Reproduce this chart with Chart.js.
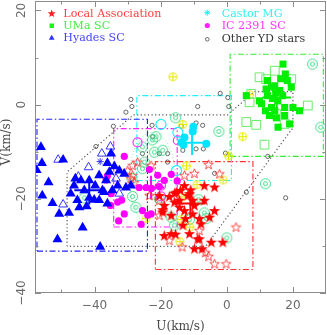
<!DOCTYPE html>
<html><head><meta charset="utf-8">
<script src="https://cdn.jsdelivr.net/npm/chart.js@4.4.0/dist/chart.umd.min.js"></script>
<style>html,body{margin:0;padding:0;background:#fff;overflow:hidden}</style>
</head><body>
<canvas id="c" width="327" height="335"></canvas>
<script>
// ---------- axis ----------
const U_MIN = -58, U_MAX = 30, V_MIN = -40, V_MAX = 22;
const xTicks = [-50, -40, -30, -20, -10, 0, 10, 20];
const yTicks = [-40, -30, -20, -10, 0, 10, 20];
const xTickLabels = [-40, -20, 0, 20];
const yTickLabels = [-40, -20, 0, 20];
const legendLabels = ["Local Association", "UMa SC", "Hyades SC", "Castor MG", "IC 2391 SC", "Other YD stars"];

// ---------- data: [U, V] ----------
const hyadesMembers = [[-56.2,-9.0],[-55.9,-12.4],[-57.5,-13.9],[-49.5,-11.7],[-53.9,-16.5],[-55.8,-19.3],[-52.7,-20.9],[-50.7,-23.2],[-47.7,-23.0],[-51.2,-28.6],[-43.6,-26.1],[-38.3,-30.2],[-45.8,-15.7],[-44.1,-16.1],[-38.6,-15.0],[-36.1,-12.4],[-34.0,-13.1],[-35.5,-14.3],[-36.5,-16.1],[-33.0,-17.2],[-30.5,-17.6],[-29.0,-17.2],[-31.0,-14.7],[-47.2,-18.9],[-45.2,-20.3],[-41.6,-19.8],[-40.1,-20.2],[-38.6,-20.3],[-36.1,-21.0],[-37.1,-18.6],[-44.6,-21.8],[-42.4,-21.6],[-41.6,-16.1],[-37.6,-18.2],[-35.0,-10.4],[-46.2,-17.2],[-34.6,-18.2],[-32.5,-14.0],[-39.8,-17.2],[-43.1,-18.2]];
const hyadesPossible = [[-51.0,-11.7],[-49.5,-21.2],[-37.8,-10.4],[-41.8,-13.3],[-44.9,-15.3],[-35.2,-8.9],[-33.5,-15.7],[-32.5,-18.9]];
const hyadesAsterisk = [[-38.3,-12.1]];
const ic2391Members = [[-31.0,-11.0],[-36.5,-16.0],[-36.1,-15.1],[-31.8,-20.3],[-33.0,-20.7],[-35.2,-21.4],[-32.7,-24.7],[-26.5,-17.6],[-24.4,-17.6],[-22.8,-17.8],[-20.4,-17.4],[-16.8,-14.8],[-23.4,-13.8],[-25.5,-22.5],[-23.9,-23.5],[-25.9,-25.4],[-31.0,-23.2],[-18.9,-16.1],[-20.9,-15.0],[-15.0,-16.2],[-22.9,-23.2],[-35.0,-18.9]];
const ic2391Possible = [[-19.9,-17.2],[-19.9,-19.5],[-27.0,-8.0],[-14.8,-7.6]];
const castorMembers = [[-10.1,-4.7],[-10.3,-5.7],[-12.8,-7.0],[-13.7,-8.0],[-13.1,-8.5],[-6.2,-8.3]];
const castorPossible = [[-19.9,-4.2],[-14.8,-5.9],[-15.2,-14.0]];
const localMembers = [[-15.8,-18.8],[-11.3,-18.9],[-19.4,-22.3],[-6.8,-17.2],[-3.7,-17.5],[-3.7,-22.5],[-7.8,-25.3],[-13.3,-25.6],[-18.9,-27.8],[-16.8,-27.4],[-15.5,-27.5],[-8.8,-28.5],[-7.5,-30.6],[-9.8,-30.6],[-1.2,-29.2],[-15.8,-20.7],[-12.8,-17.2],[-5.2,-23.9],[-8.3,-24.2],[-11.3,-27.4],[-8.3,-28.5],[-4.7,-29.2],[-11.8,-19.3],[-15.3,-18.6],[-18.9,-21.4],[-14.3,-21.8],[-10.3,-20.3],[-19.4,-22.8],[-10.3,-23.2],[-14.3,-20.3],[-12.8,-22.5],[-16.8,-23.5],[-9.8,-21.4],[-6.8,-20.3],[-12.5,-24.2],[-17.4,-19.5],[-20.4,-19.3],[-14.0,-18.2],[-10.9,-18.1]];
const localPossible = [[-28.5,-12.9],[-27.0,-12.2],[-28.5,-15.0],[-28.0,-16.5],[-30.0,-14.0],[-29.0,-15.7],[-22.9,-12.9],[-5.5,-12.7],[-2.2,-14.7],[-12.8,-15.0],[-9.8,-14.6],[2.8,-26.0],[-13.5,-30.2],[-5.5,-32.2],[-3.7,-33.8],[-0.2,-33.8],[-6.5,-31.4],[-23.4,-19.3],[-20.4,-23.5],[-17.4,-28.8],[-8.3,-26.7],[-20.4,-20.3]];
const umaMembers = [[17.0,8.6],[17.7,6.5],[18.3,5.1],[19.5,3.7],[13.5,3.7],[11.9,3.3],[14.5,4.0],[16.0,3.0],[12.3,1.9],[13.8,1.3],[15.4,0.8],[16.9,1.9],[9.9,0.8],[17.5,-0.6],[20.0,-0.6],[22.0,-1.3],[12.9,-2.3],[15.5,-4.8],[19.0,-4.1],[14.5,-1.3],[5.9,1.9],[15.0,-2.8],[13.5,-0.6],[14.8,2.5],[10.5,0.2],[12.3,5.1],[16.3,5.5],[11.7,-1.3],[17.5,-2.3]];
const umaPossible = [[14.5,7.2],[9.9,5.8],[11.9,5.4],[19.5,5.4],[7.4,2.3],[6.9,0.5],[24.5,-0.2],[5.9,-3.7],[8.9,-4.3],[17.5,-4.1],[15.0,-2.0],[11.4,-8.5]];
const ringStars = [[25.9,8.6],[28.4,-4.8],[11.7,-16.8],[0.0,-28.3],[-15.5,-2.8],[-2.4,-5.7],[-21.4,-6.8],[-25.5,-9.0],[-21.9,-10.1],[-19.4,-9.7],[-24.9,-12.2],[-28.5,-19.5],[-27.5,-21.8],[-16.8,-23.9],[-8.5,-20.2],[-6.8,-23.0],[-6.2,-24.2],[-11.3,-24.4],[-15.8,-25.6],[-25.5,-13.6],[-28.7,-15.7],[-20.4,-20.0],[-43.1,-19.8],[-22.5,-7.5]];
const plusStars = [[-16.3,5.9],[6.9,2.1],[-13.3,-4.2],[-12.2,-13.0],[-9.0,-17.0],[-1.1,-16.0],[0.5,-10.9],[4.8,-6.8],[-13.6,-19.6],[-11.2,-26.0],[-14.2,-29.1],[-24.4,-24.2],[-13.8,-24.4]];
const otherYD = [[-29.0,1.1],[-28.7,-0.4],[-30.5,-1.6],[-8.8,-0.4],[-2.0,2.4],[0.3,1.5],[0.6,-0.4],[-34.3,-4.6],[-22.6,-4.4],[-9.3,-3.9],[-7.3,-4.4],[-13.8,-4.6],[-39.6,-8.9],[-17.9,-10.4],[-13.3,-9.7],[-9.3,-9.4],[-7.1,-9.4],[-0.4,-10.3],[-3.7,-14.6],[5.9,-18.6],[17.8,-19.8],[12.4,-11.0],[-22.4,-6.8],[-17.9,-12.2],[-25.5,-10.4],[-20.4,-10.4]];

// boxes: [Umin, Umax, Vmin, Vmax]
const hyadesBox = [-57.4, -24.0, -31.1, -3.1];
const ic2391Box = [-34.2, -15.0, -26.0, -5.1];
const castorBox = [-27.2, 1.4, -16.1, 1.9];
const localBox = [-21.6, 7.9, -35.0, -12.1];
const umaBox = [1.0, 29.2, -11.0, 10.7];
// dotted outline: vertices [U, V]
const outline = [[-48.3,-30.1],[-48.3,-14.3],[-28.3,-2.2],[0.2,-2.2],[8.4,2.75],[20.0,2.75],[20.0,-4.9],[-6.4,-30.1],[-48.3,-30.1]];
// mean and dispersion crosses: [U, V, dU, dV]
const hyadesCross = [-41.6, -18.2, 4.5, 3.0];
const ic2391Cross = [-22.9, -17.6, 4.0, 2.5];
const castorCross = [-10.5, -8.1, 3.8, 2.6];
const umaCross = [15.1, 1.5, 4.3, 3.0];
const localCross = [-11.0, -21.0, 4.5, 3.0];
// ellipse: [U, V, semiU, semiV]
const ic2391Ellipse = [-22.5, -15.9, 7.0, 10.0];

// ---------- helpers ----------
const pts = a => a.map(p => ({x: p[0], y: p[1]}));
const boxPts = b => [{x:b[0],y:b[2]},{x:b[1],y:b[2]},{x:b[1],y:b[3]},{x:b[0],y:b[3]},{x:b[0],y:b[2]}];
const crossPts = c => [{x:c[0]-c[2],y:c[1]},{x:c[0]+c[2],y:c[1]},{x:c[0],y:null},{x:c[0],y:c[1]-c[3]},{x:c[0],y:c[1]+c[3]}];

function mk(size, draw) {
  const c = document.createElement('canvas');
  c.width = size; c.height = size;
  const g = c.getContext('2d');
  draw(g, size / 2);
  return c;
}
function starPath(g, cx, cy, R, r) {
  g.beginPath();
  for (let i = 0; i < 10; i++) {
    const a = -Math.PI / 2 + i * Math.PI / 5;
    const rr = i % 2 ? r : R;
    const px = cx + rr * Math.cos(a), py = cy + rr * Math.sin(a);
    i ? g.lineTo(px, py) : g.moveTo(px, py);
  }
  g.closePath();
}
const starFilled = mk(13, (g, c) => { starPath(g, c, c + 0.4, 5.9, 2.4); g.fillStyle = '#ff0000'; g.fill(); });
const starOpen = mk(13, (g, c) => { starPath(g, c, c + 0.4, 5.0, 2.1); g.strokeStyle = '#ff3a3a'; g.lineWidth = 0.9; g.stroke(); });
const plusCircle = mk(11, (g, c) => {
  g.strokeStyle = '#e8e800'; g.lineWidth = 1;
  g.beginPath(); g.arc(c, c, 4, 0, Math.PI * 2); g.stroke();
  g.beginPath(); g.moveTo(c - 4, c); g.lineTo(c + 4, c); g.moveTo(c, c - 4); g.lineTo(c, c + 4); g.stroke();
});
const ringCircle = mk(13, (g, c) => {
  g.strokeStyle = '#3ddc8a'; g.lineWidth = 1;
  g.beginPath(); g.arc(c, c, 5, 0, Math.PI * 2); g.stroke();
  g.beginPath(); g.arc(c, c, 2, 0, Math.PI * 2); g.stroke();
});

const lineDS = (data, color, dash, width) => ({
  data, showLine: true, borderColor: color, borderWidth: width || 1.2, borderDash: dash,
  pointRadius: 0, fill: false, spanGaps: false, tension: 0
});
const DD = [6, 2.5, 1.5, 2.5];

const datasets = [
  {data: pts(hyadesMembers), pointStyle: 'triangle', pointRadius: 5.8, backgroundColor: '#0000ff', borderWidth: 0},
  {data: pts(hyadesAsterisk), pointStyle: 'star', pointRadius: 3.5, borderColor: '#3030ff', borderWidth: 1},
  {data: pts(localMembers), pointStyle: starFilled, pointRadius: 5},
  {data: pts(umaMembers), pointStyle: 'rect', pointRadius: 5, backgroundColor: '#00ee00', borderWidth: 0},
  {data: pts(castorMembers), pointStyle: 'circle', pointRadius: 4, backgroundColor: '#00e5ff', borderWidth: 0},
  {data: pts(ic2391Members), pointStyle: 'circle', pointRadius: 3.6, backgroundColor: '#ff00ff', borderWidth: 0},
  {data: pts(hyadesPossible), pointStyle: 'triangle', pointRadius: 5, backgroundColor: 'rgba(0,0,0,0)', borderColor: '#3434ff', borderWidth: 1},
  {data: pts(localPossible), pointStyle: starOpen, pointRadius: 5},
  {data: pts(umaPossible), pointStyle: 'rect', pointRadius: 6.2, backgroundColor: 'rgba(0,0,0,0)', borderColor: '#66ee66', borderWidth: 1},
  {data: pts(castorPossible), pointStyle: 'circle', pointRadius: 5, backgroundColor: 'rgba(0,0,0,0)', borderColor: '#22eeff', borderWidth: 1.2},
  {data: pts(ic2391Possible), pointStyle: 'circle', pointRadius: 4.5, backgroundColor: 'rgba(0,0,0,0)', borderColor: '#ff33ff', borderWidth: 1.2},
  {data: pts(plusStars), pointStyle: plusCircle, pointRadius: 4},
  {data: pts(ringStars), pointStyle: ringCircle, pointRadius: 5},
  {data: pts(otherYD), pointStyle: 'circle', pointRadius: 2.1, backgroundColor: 'rgba(0,0,0,0)', borderColor: '#444', borderWidth: 0.8},
  lineDS(crossPts(hyadesCross), '#0000ff', [], 2),
  lineDS(crossPts(ic2391Cross), '#ff00ff', [], 2),
  lineDS(crossPts(castorCross), '#00e5ff', [], 2),
  lineDS(crossPts(umaCross), '#00ee00', [], 2),
  lineDS(crossPts(localCross), '#ff0000', [], 2),
  lineDS(boxPts(hyadesBox), '#2222ff', DD, 1.1),
  lineDS(boxPts(ic2391Box), '#ff22ff', DD, 1.1),
  lineDS(boxPts(castorBox), '#22eeff', DD, 1.1),
  lineDS(boxPts(localBox), '#ff3030', DD, 1.1),
  lineDS(boxPts(umaBox), '#33ee33', DD, 1.1),
  lineDS(pts(outline), '#555', [1.2, 2.4], 1.2),
];
datasets.forEach((d, i) => { d.order = i; });

const deco = {
  id: 'deco',
  beforeDatasetsDraw(chart) {
    const {ctx, scales: {x, y}} = chart;
    const e = ic2391Ellipse;
    const cx = x.getPixelForValue(e[0]), cy = y.getPixelForValue(e[1]);
    const rx = Math.abs(x.getPixelForValue(e[0] + e[2]) - cx), ry = Math.abs(y.getPixelForValue(e[1] + e[3]) - cy);
    ctx.save();
    ctx.strokeStyle = '#8aeeb0'; ctx.lineWidth = 1; ctx.setLineDash([1, 2]);
    ctx.beginPath(); ctx.ellipse(cx, cy, rx, ry, 0, 0, Math.PI * 2); ctx.stroke();
    ctx.restore();
  },
  afterDraw(chart) {
    const {ctx, chartArea: a, scales: {x, y}} = chart;
    ctx.save();
    ctx.setLineDash([]);
    ctx.strokeStyle = '#8c8c8c'; ctx.lineWidth = 1;
    ctx.strokeRect(a.left + 0.5, a.top + 0.5, a.right - a.left - 1, a.bottom - a.top - 1);
    ctx.beginPath();
    xTicks.forEach(v => {
      const px = Math.round(x.getPixelForValue(v)) + 0.5;
      const L = (v % 20 === 0) ? 6 : 3.5;
      ctx.moveTo(px, a.bottom); ctx.lineTo(px, a.bottom - L);
      ctx.moveTo(px, a.top); ctx.lineTo(px, a.top + L);
    });
    yTicks.forEach(v => {
      const py = Math.round(y.getPixelForValue(v)) + 0.5;
      const L = (v % 20 === 0) ? 6 : 3.5;
      ctx.moveTo(a.left, py); ctx.lineTo(a.left + L, py);
      ctx.moveTo(a.right, py); ctx.lineTo(a.right - L, py);
    });
    ctx.stroke();
    // tick labels
    ctx.fillStyle = '#6a6a6a';
    ctx.font = '12px "DejaVu Sans"';
    ctx.textAlign = 'center'; ctx.textBaseline = 'middle';
    const fmt = v => (v < 0 ? '\u2212' + Math.abs(v) : String(v));
    xTickLabels.forEach(v => { ctx.fillText(fmt(v), x.getPixelForValue(v), 306); });
    for (let i = 0; i < yTickLabels.length; i++) {
      const v = yTickLabels[i];
      const py = y.getPixelForValue(v);
      ctx.setTransform(0, -1, 1, 0, 22, py);
      ctx.fillText(fmt(v), 0, 0);
      ctx.setTransform(1, 0, 0, 1, 0, 0);
    }
    // axis titles
    ctx.fillStyle = '#4a4a4a';
    ctx.font = '12px "DejaVu Serif"';
    ctx.fillText('U(km/s)', (a.left + a.right) / 2, 327);
    ctx.setTransform(0, -1, 1, 0, 7, 142); ctx.fillText('V(km/s)', 0, 0); ctx.setTransform(1, 0, 0, 1, 0, 0);
    // legend
    ctx.font = '11px "DejaVu Serif"';
    const m = ctx.measureText(legendLabels[0]).width;
    ctx.font = (11 * 98 / m).toFixed(2) + 'px "DejaVu Serif"';
    ctx.textAlign = 'left';
    const items = [
      [legendLabels[0], '#ff4040', 63.3, 14.3],
      [legendLabels[1], '#44ee44', 63.3, 25.7],
      [legendLabels[2], '#4444ff', 63.3, 38.3],
      [legendLabels[3], '#33f0f0', 221.7, 14.0],
      [legendLabels[4], '#ff33ff', 221.7, 25.7],
      [legendLabels[5], '#333333', 221.7, 39.0],
    ];
    items.forEach(it => { ctx.fillStyle = it[1]; ctx.fillText(it[0], it[2], it[3]); });
    // legend symbols
    ctx.fillStyle = '#ff2020'; starPath(ctx, 51.7, 13.6, 4.2, 1.8); ctx.fill();
    ctx.fillStyle = '#22ee22'; ctx.fillRect(49.5, 23.5, 4.5, 4.5);
    ctx.fillStyle = '#3030ff'; ctx.beginPath(); ctx.moveTo(51.7, 34.8); ctx.lineTo(54.6, 39.8); ctx.lineTo(48.8, 39.8); ctx.closePath(); ctx.fill();
    ctx.strokeStyle = '#22eeee'; ctx.lineWidth = 1; ctx.beginPath();
    for (let k = 0; k < 4; k++) { const an = k * Math.PI / 4; ctx.moveTo(207.3 - 3 * Math.cos(an), 12.7 - 3 * Math.sin(an)); ctx.lineTo(207.3 + 3 * Math.cos(an), 12.7 + 3 * Math.sin(an)); }
    ctx.stroke();
    ctx.fillStyle = '#ff22ff'; ctx.beginPath(); ctx.arc(207.3, 25.5, 2.6, 0, Math.PI * 2); ctx.fill();
    ctx.strokeStyle = '#444'; ctx.lineWidth = 0.8; ctx.beginPath(); ctx.arc(207.3, 39.3, 1.8, 0, Math.PI * 2); ctx.stroke();
    ctx.restore();
  }
};

new Chart(document.getElementById('c'), {
  type: 'scatter',
  data: {datasets},
  options: {
    responsive: false, animation: false, devicePixelRatio: 1,
    layout: {padding: {top: 1, right: 1, left: 0, bottom: 0}, autoPadding: false},
    plugins: {legend: {display: false}, tooltip: {enabled: false}},
    scales: {
      x: {type: 'linear', min: U_MIN, max: U_MAX, ticks: {display: false}, grid: {display: false}, border: {display: false},
          afterBuildTicks: s => { s.ticks = xTicks.map(v => ({value: v})); },
          afterFit: s => { s.height = 42; }},
      y: {type: 'linear', min: V_MIN, max: V_MAX, ticks: {display: false}, grid: {display: false}, border: {display: false},
          afterBuildTicks: s => { s.ticks = yTicks.map(v => ({value: v})); },
          afterFit: s => { s.width = 35; }}
    }
  },
  plugins: [deco]
});
</script>
</body></html>
